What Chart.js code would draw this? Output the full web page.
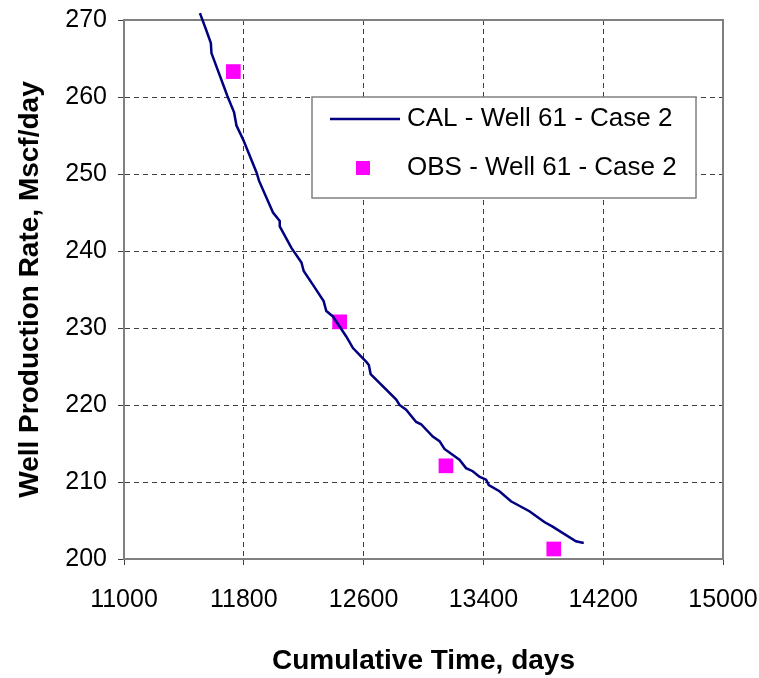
<!DOCTYPE html>
<html>
<head>
<meta charset="utf-8">
<script src="https://cdn.jsdelivr.net/npm/chart.js@4"></script>
<style>
  body { margin: 0; background: #fff; }
  #wrap { width: 759px; height: 678px; }
</style>
</head>
<body>
<div id="wrap"><canvas id="chart" width="759" height="678"></canvas></div>
<script>
// CAL curve
var calTime = [11507, 11547, 11580, 11584, 11691, 11735, 11751, 11795, 11885, 11902, 11995, 12040, 12040, 12118, 12185, 12200, 12262, 12333, 12351, 12395, 12484, 12529, 12618, 12635, 12647, 12818, 12840, 12884, 12951, 12984, 13062, 13107, 13140, 13240, 13284, 13329, 13373, 13418, 13436, 13507, 13584, 13707, 13807, 13862, 14018, 14062, 14070];
var calRate = [270.9, 268.8, 267.0, 265.7, 260.1, 258.0, 256.3, 254.5, 250.2, 249.1, 245.0, 243.9, 243.2, 240.4, 238.5, 237.4, 235.6, 233.5, 232.2, 231.5, 228.9, 227.4, 225.6, 225.2, 224.0, 220.7, 220.0, 219.4, 217.8, 217.5, 215.9, 215.3, 214.3, 212.9, 211.8, 211.4, 210.7, 210.3, 209.6, 208.8, 207.5, 206.2, 204.8, 204.2, 202.3, 202.1, 202.1];

// observed points
var obsTime = [11730, 12440, 13150, 13870];
var obsRate = [263.3, 230.8, 212.1, 201.3];

var xTicks = [11000, 11800, 12600, 13400, 14200, 15000];
var yTicks = [200, 210, 220, 230, 240, 250, 260, 270];

var FONT = "'Liberation Sans', Arial, sans-serif";

function toPoints(xs, ys) {
  return xs.map(function (x, i) { return { x: x, y: ys[i] }; });
}

// solid frame round the plot area
var frame = {
  id: "frame",
  beforeDatasetsDraw: function (chart) {
    var a = chart.chartArea, ctx = chart.ctx;
    ctx.save();
    ctx.strokeStyle = "#808080";
    ctx.lineWidth = 2;
    ctx.strokeRect(a.left, a.top, a.right - a.left, a.bottom - a.top);
    ctx.restore();
  }
};

// boxed legend inside the plot, like the spreadsheet one
var boxLegend = {
  id: "boxLegend",
  afterDraw: function (chart) {
    var a = chart.chartArea, ctx = chart.ctx;
    var bx = a.left + 188, by = a.top + 77, bw = 384, bh = 101;
    ctx.save();
    ctx.fillStyle = "#fff";
    ctx.fillRect(bx, by, bw, bh);
    ctx.strokeStyle = "#808080";
    ctx.lineWidth = 1.5;
    ctx.strokeRect(bx, by, bw, bh);
    var ds = chart.data.datasets;
    var y1 = by + 22, y2 = by + 71;
    ctx.strokeStyle = ds[0].borderColor;
    ctx.lineWidth = ds[0].borderWidth;
    ctx.beginPath();
    ctx.moveTo(bx + 18, y1);
    ctx.lineTo(bx + 88, y1);
    ctx.stroke();
    ctx.fillStyle = ds[1].backgroundColor;
    ctx.fillRect(bx + 44, y2 - 7, 14, 14);
    ctx.fillStyle = "#000";
    ctx.font = "26px " + FONT;
    ctx.textBaseline = "middle";
    ctx.fillText(ds[0].label, bx + 95, y1);
    ctx.fillText(ds[1].label, bx + 95, y2);
    ctx.restore();
  }
};

new Chart(document.getElementById("chart"), {
  type: "scatter",
  data: {
    datasets: [
      {
        label: "CAL - Well 61 - Case 2",
        data: toPoints(calTime, calRate),
        showLine: true,
        borderColor: "#000080",
        backgroundColor: "#000080",
        borderWidth: 2.5,
        pointRadius: 0,
        tension: 0,
        clip: false
      },
      {
        label: "OBS - Well 61 - Case 2",
        data: toPoints(obsTime, obsRate),
        showLine: false,
        pointStyle: "rect",
        pointRadius: 10.4,
        borderWidth: 0,
        borderColor: "#ff00ff",
        backgroundColor: "#ff00ff"
      }
    ]
  },
  options: {
    responsive: false,
    animation: false,
    layout: { padding: { top: 20, right: 36, left: 0, bottom: 0 } },
    plugins: {
      legend: { display: false },
      tooltip: { enabled: false }
    },
    scales: {
      x: {
        type: "linear",
        min: 11000,
        max: 15000,
        afterBuildTicks: function (s) { s.ticks = xTicks.map(function (v) { return { value: v }; }); },
        afterFit: function (s) { s.height = 119; s.paddingLeft = 0; s.paddingRight = 0; },
        grid: {
          color: "#404040",
          lineWidth: 1,
          tickLength: 6,
          tickColor: "#404040"
        },
        border: { display: true, color: "#808080", width: 2, dash: [5, 4] },
        ticks: {
          color: "#000",
          padding: 20,
          maxRotation: 0,
          callback: function (v) { return String(v); },
          font: { family: FONT, size: 25 }
        },
        title: {
          display: true,
          text: "Cumulative Time, days",
          color: "#000",
          padding: { top: 0, bottom: 0 },
          font: { family: FONT, size: 28, weight: "bold" }
        }
      },
      y: {
        type: "linear",
        min: 200,
        max: 270,
        afterBuildTicks: function (s) { s.ticks = yTicks.map(function (v) { return { value: v }; }); },
        afterFit: function (s) { s.width = 124; s.paddingTop = 0; s.paddingBottom = 0; },
        grid: {
          color: "#404040",
          lineWidth: 1,
          tickLength: 6,
          tickColor: "#404040"
        },
        border: { display: true, color: "#808080", width: 2, dash: [5, 4] },
        ticks: {
          color: "#000",
          padding: 11,
          callback: function (v) { return String(v); },
          font: { family: FONT, size: 25 }
        },
        title: {
          display: true,
          text: "Well Production Rate, Mscf/day",
          color: "#000",
          padding: { top: 13, bottom: 0 },
          font: { family: FONT, size: 28, weight: "bold" }
        }
      }
    }
  },
  plugins: [frame, boxLegend]
});
</script>
</body>
</html>
